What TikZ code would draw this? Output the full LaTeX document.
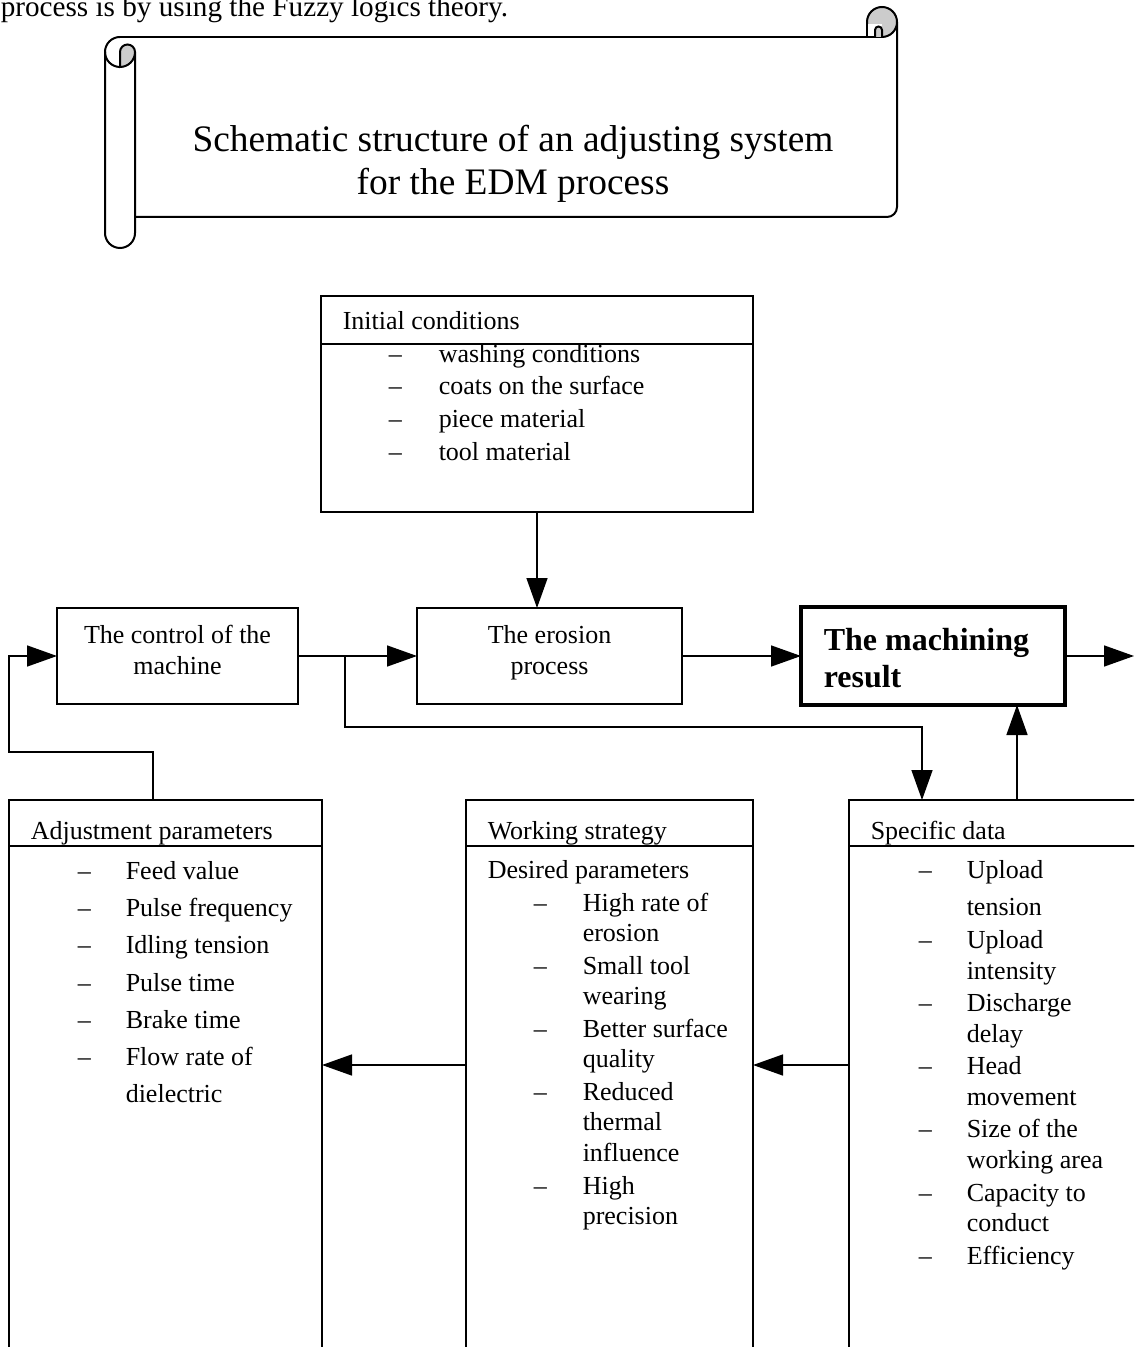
\documentclass[tikz,border=0pt]{standalone}
\usepackage{fontspec}
\setmainfont{Liberation Serif}
\usetikzlibrary{arrows.meta,calc}
\begin{document}
\begin{tikzpicture}[x=0.5pt,y=-0.5pt,line width=0.75pt,
  box/.style={draw,rectangle,inner sep=0pt,outer sep=0pt,anchor=north west},
  arr/.style={-{Triangle[length=15pt,width=10.5pt]}},
  txt/.style={anchor=base west,inner sep=0pt,font=\fontsize{13pt}{15pt}\selectfont},
  ctxt/.style={anchor=base,inner sep=0pt,font=\fontsize{13pt}{15pt}\selectfont},
  btxt/.style={anchor=base west,inner sep=0pt,font=\fontsize{16pt}{18pt}\selectfont\bfseries},
  ttl/.style={anchor=base,inner sep=0pt,font=\fontsize{18.7pt}{22pt}\selectfont},
  curl/.style={fill=black!20}]
\useasboundingbox (0,0) rectangle (1134,1347);
\clip (0,0) rectangle (1134,1347);

% intro text (cut at top, as in the source page)
\node[txt,font=\fontsize{14.6pt}{16pt}\selectfont] (intro) at (0,17) {process is by using the Fuzzy logics theory.};

% ---- scroll banner ----
\begin{scope}[line width=1pt]
  \draw (120,37) -- (882,37);
  \draw (897,22) -- (897,207) arc[start angle=0,end angle=90,radius=10] -- (135,217);
  % left roller
  \draw (105,52) arc[start angle=180,end angle=270,radius=15];
  \draw (105,52) -- (105,233) arc[start angle=180,end angle=0,radius=15] -- (135,52);
  \draw (105,52) arc[start angle=180,end angle=90,radius=15];
  \filldraw[curl] (120,67) -- (120,52) arc[start angle=180,end angle=360,radius=7.5]
     arc[start angle=0,end angle=90,radius=15] -- cycle;
  % right curl
  \filldraw[curl] (882,22) circle[radius=15];
  \fill[white] (867.5,24) rectangle (881.5,36.5);
  \draw (867,22) -- (867,37) -- (882,37);
  \filldraw[curl] (882,37) -- (882,30) arc[start angle=0,end angle=-180,radius=3.5] -- (875,37);
\end{scope}
\node[ttl] (t1) at (513,152) {Schematic structure of an adjusting system};
\node[ttl] (t2) at (513,195) {for the EDM process};

% ---- boxes ----
\node[box,minimum width=216pt,minimum height=108pt] (init) at (321,296) {};
\draw ([yshift=-24pt]init.north west) -- ([yshift=-24pt]init.north east);
\node[txt] (ih) at (342,330) {Initial conditions};
\node[txt] (id1) at (388,363) {–}; \node[txt] (i1) at (438,363) {washing conditions};
\node[txt] (id2) at (388,395) {–}; \node[txt] (i2) at (438,395) {coats on the surface};
\node[txt] (id3) at (388,428) {–}; \node[txt] (i3) at (438,428) {piece material};
\node[txt] (id4) at (388,460) {–}; \node[txt] (i4) at (438,460) {tool material};

\node[box,minimum width=120.5pt,minimum height=48pt] (ctrl) at (57,608) {};
\node[ctxt] (c1) at (177.5,643) {The control of the};
\node[ctxt] (c2) at (177.5,674) {machine};

\node[box,minimum width=132.5pt,minimum height=48pt] (eros) at (417,608) {};
\node[ctxt] (e1) at (549.5,643) {The erosion};
\node[ctxt] (e2) at (549.5,674) {process};

\node[box,line width=2pt,minimum width=132pt,minimum height=49pt] (res) at (801,607) {};
\node[btxt] (r1) at (823,650) {The machining};
\node[btxt] (r2) at (823,687) {result};

\node[box,minimum width=156.5pt,minimum height=350pt] (adj) at (9,800) {};
\draw ([yshift=-23pt]adj.north west) -- ([yshift=-23pt]adj.north east);
\node[txt] (ah) at (30,839) {Adjustment parameters};
\node[txt] (ad1) at (77,879) {–}; \node[txt] (a1) at (125,879) {Feed value};
\node[txt] (ad2) at (77,916) {–}; \node[txt] (a2) at (125,916) {Pulse frequency};
\node[txt] (ad3) at (77,953) {–}; \node[txt] (a3) at (125,953) {Idling tension};
\node[txt] (ad4) at (77,991) {–}; \node[txt] (a4) at (125,991) {Pulse time};
\node[txt] (ad5) at (77,1028) {–}; \node[txt] (a5) at (125,1028) {Brake time};
\node[txt] (ad6) at (77,1065) {–}; \node[txt] (a6) at (125,1065) {Flow rate of};
\node[txt] (a7) at (125,1102) {dielectric};

\node[box,minimum width=143.5pt,minimum height=350pt] (work) at (466,800) {};
\draw ([yshift=-23pt]work.north west) -- ([yshift=-23pt]work.north east);
\node[txt] (wh) at (487,839) {Working strategy};
\node[txt] (w0) at (487,878) {Desired parameters};
\node[txt] (wd1) at (533,911) {–}; \node[txt] (w1) at (582,911) {High rate of};
\node[txt] (w1b) at (582,941) {erosion};
\node[txt] (wd2) at (533,974) {–}; \node[txt] (w2) at (582,974) {Small tool};
\node[txt] (w2b) at (582,1004) {wearing};
\node[txt] (wd3) at (533,1037) {–}; \node[txt] (w3) at (582,1037) {Better surface};
\node[txt] (w3b) at (582,1067) {quality};
\node[txt] (wd4) at (533,1100) {–}; \node[txt] (w4) at (582,1100) {Reduced};
\node[txt] (w4b) at (582,1130) {thermal};
\node[txt] (w4c) at (582,1161) {influence};
\node[txt] (wd5) at (533,1194) {–}; \node[txt] (w5) at (582,1194) {High};
\node[txt] (w5b) at (582,1224) {precision};

\node[box,minimum width=200pt,minimum height=350pt] (spec) at (849,800) {};
\draw ([yshift=-23pt]spec.north west) -- ([yshift=-23pt]spec.north east);
\node[txt] (sh) at (870,839) {Specific data};
\node[txt] (sd1) at (918,878) {–}; \node[txt] (s1) at (966,878) {Upload};
\node[txt] (s1b) at (966,915) {tension};
\node[txt] (sd2) at (918,948) {–}; \node[txt] (s2) at (966,948) {Upload};
\node[txt] (s2b) at (966,979) {intensity};
\node[txt] (sd3) at (918,1011) {–}; \node[txt] (s3) at (966,1011) {Discharge};
\node[txt] (s3b) at (966,1042) {delay};
\node[txt] (sd4) at (918,1074) {–}; \node[txt] (s4) at (966,1074) {Head};
\node[txt] (s4b) at (966,1105) {movement};
\node[txt] (sd5) at (918,1137) {–}; \node[txt] (s5) at (966,1137) {Size of the};
\node[txt] (s5b) at (966,1168) {working area};
\node[txt] (sd6) at (918,1201) {–}; \node[txt] (s6) at (966,1201) {Capacity to};
\node[txt] (s6b) at (966,1231) {conduct};
\node[txt] (sd7) at (918,1264) {–}; \node[txt] (s7) at (966,1264) {Efficiency};

% ---- connectors ----
\coordinate (br) at (345,656);
\coordinate (sdin) at (922,800);
\coordinate (sout) at (1017,800);
\coordinate (aout) at (153,800);
\coordinate (outR) at (1134,656);

\draw[arr] (init.south -| 537,0) -- (eros.north -| 537,0);
\draw[arr] (ctrl.east) -- (eros.west);
\draw[arr] (br) -- (345,727) -- (922,727) -- (sdin);
\draw[arr] (eros.east) -- (res.west);
\draw[arr] (res.east) -- (outR);
\draw[arr] (sout) -- (sout |- res.south);
\draw[arr] (aout) -- (153,752) -- (9,752) -- (9,656) -- (ctrl.west);
\draw[arr] (work.west |- 0,1065) -- (adj.east |- 0,1065);
\draw[arr] (spec.west |- 0,1065) -- (work.east |- 0,1065);
\end{tikzpicture}
\end{document}
